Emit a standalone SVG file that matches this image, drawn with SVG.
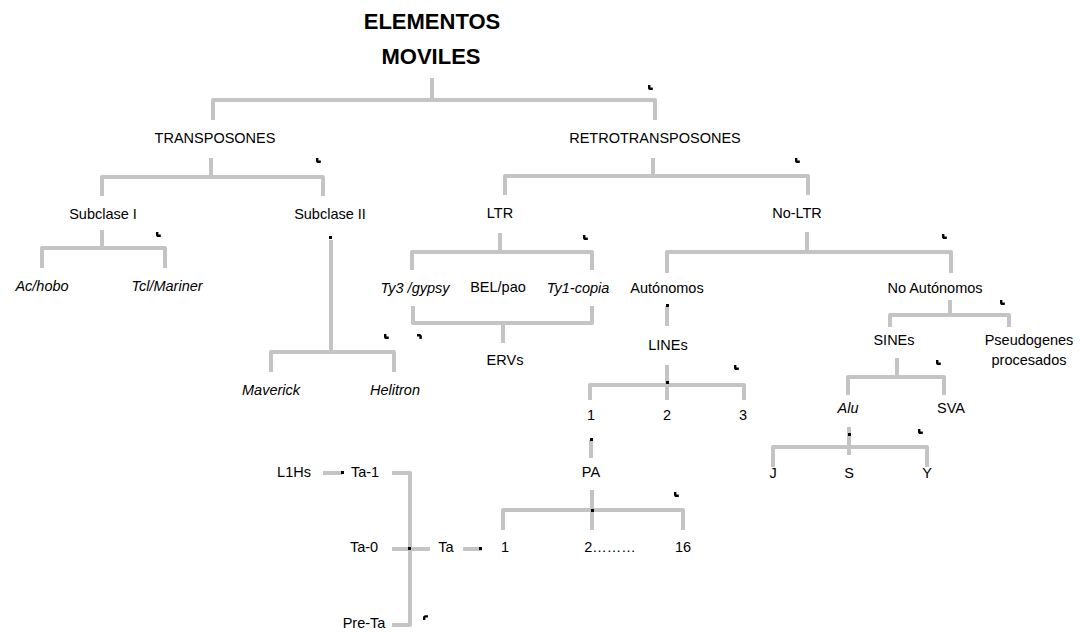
<svg xmlns="http://www.w3.org/2000/svg" width="1080" height="632" viewBox="0 0 1080 632">
<style>
.t{font-family:"Liberation Sans",Arial,sans-serif;font-size:14.5px;fill:#000;text-anchor:middle}
.i{font-style:italic}
.h{font-weight:bold;font-size:22px}
.c{fill:none;stroke:#c4c4c4;stroke-width:4;stroke-linejoin:round;stroke-linecap:butt}
.d{fill:#000}
</style>
<defs>
<filter id="blur" x="-5%" y="-5%" width="110%" height="110%"><feGaussianBlur stdDeviation="0.7"/></filter>
<path id="mk" class="d" d="M0,0 h2.4 v2.6 h2.4 v2.4 h-2.2 q-2.6,0 -2.6,-2.6 z"/>
</defs>
<rect width="1080" height="632" fill="#fff"/>
<g id="connectors" class="c" filter="url(#blur)">
<path d="M432,78 V100 M213,120 V100 H655 V120"/>
<path d="M211,158 V177 M102,196 V177 H323 V196"/>
<path d="M102,230 V248 M42,268 V248 H165 V268"/>
<path d="M331,240 V352 M271,372 V352 H394 V372"/>
<path d="M653,158 V176 M505,195 V176 H808 V195"/>
<path d="M500,233 V252 M412,270 V252 H592 V270"/>
<path d="M807,232 V252 M667,273 V252 H951 V273"/>
<path d="M413,306 V323 H592 V306 M503,323 V343"/>
<path d="M667,306 V326"/>
<path d="M667,365 V400 M590,400 V385 H744 V400"/>
<path d="M591,440 V458"/>
<path d="M592,490 V530 M503,530 V510 H683 V530"/>
<path d="M950,300 V315 M890,327 V315 H1009 V327"/>
<path d="M897,358 V377 M848,395 V377 H944 V395"/>
<path d="M849,427 V455 M773,467 V447 H927 V467"/>
<path d="M323,473 H342"/>
<path d="M392,473 H410 V625 H392"/>
<path d="M392,549 H430"/>
<path d="M463,549 H482"/>
</g>
<g id="marks">
<use href="#mk" x="648" y="85"/>
<use href="#mk" x="316" y="158"/>
<use href="#mk" x="795" y="158"/>
<use href="#mk" x="156" y="232"/>
<use href="#mk" x="583" y="235"/>
<use href="#mk" x="942" y="234"/>
<use href="#mk" x="1000" y="300"/>
<use href="#mk" x="384" y="334"/>
<use href="#mk" x="734" y="365"/>
<use href="#mk" x="936" y="360"/>
<use href="#mk" x="918" y="429"/>
<use href="#mk" x="674" y="492"/>
<path class="d" d="M417,334 h2.2 q2.6,0 2.6,2.6 v2.4 h-2.4 v-2.6 h-2.4 z"/>
<path class="d" d="M423,620 v-2.2 q0,-2.6 2.6,-2.6 h2.4 v2.4 h-2.6 v2.4 z"/>
<rect class="d" x="329" y="236" width="3" height="3"/>
<rect class="d" x="666" y="304" width="3" height="3"/>
<rect class="d" x="666" y="381" width="3" height="3"/>
<rect class="d" x="590" y="438" width="3" height="3"/>
<rect class="d" x="591" y="509" width="3" height="3"/>
<rect class="d" x="848" y="433" width="3" height="3"/>
<rect class="d" x="341" y="471" width="3" height="3"/>
<rect class="d" x="408" y="547" width="3" height="3"/>
<rect class="d" x="479" y="547" width="3" height="3"/>
</g>
<g id="n-root"><text class="t h" x="432" y="29">ELEMENTOS</text><text class="t h" x="431" y="64">MOVILES</text></g>
<g id="n-transposones"><text class="t" x="215" y="143">TRANSPOSONES</text></g>
<g id="n-retro"><text class="t" x="655" y="143">RETROTRANSPOSONES</text></g>
<g id="n-sub1"><text class="t" x="103" y="219">Subclase I</text></g>
<g id="n-sub2"><text class="t" x="330" y="219">Subclase II</text></g>
<g id="n-ltr"><text class="t" x="500" y="218">LTR</text></g>
<g id="n-noltr"><text class="t" x="797" y="218">No-LTR</text></g>
<g id="n-achobo"><text class="t i" x="42" y="291">Ac/hobo</text></g>
<g id="n-tcl"><text class="t i" x="167" y="291">Tcl/Mariner</text></g>
<g id="n-maverick"><text class="t i" x="271" y="395">Maverick</text></g>
<g id="n-helitron"><text class="t i" x="395" y="395">Helitron</text></g>
<g id="n-ty3"><text class="t i" x="415" y="293">Ty3 /gypsy</text></g>
<g id="n-bel"><text class="t" x="498" y="292">BEL/pao</text></g>
<g id="n-ty1"><text class="t i" x="578" y="293">Ty1-copia</text></g>
<g id="n-erv"><text class="t" x="505" y="365">ERVs</text></g>
<g id="n-auto"><text class="t" x="667" y="293">Autónomos</text></g>
<g id="n-noauto"><text class="t" x="935" y="293">No Autónomos</text></g>
<g id="n-lines"><text class="t" x="668" y="350">LINEs</text></g>
<g id="n-l1"><text class="t" x="591" y="420">1</text></g>
<g id="n-l2"><text class="t" x="667" y="420">2</text></g>
<g id="n-l3"><text class="t" x="743" y="420">3</text></g>
<g id="n-pa"><text class="t" x="591" y="477">PA</text></g>
<g id="n-pa1"><text class="t" x="505" y="552">1</text></g>
<g id="n-pa2"><text class="t" x="610" y="552">2………</text></g>
<g id="n-pa16"><text class="t" x="683" y="552">16</text></g>
<g id="n-ta"><text class="t" x="446" y="552">Ta</text></g>
<g id="n-ta0"><text class="t" x="364" y="552">Ta-0</text></g>
<g id="n-ta1"><text class="t" x="365" y="477">Ta-1</text></g>
<g id="n-l1hs"><text class="t" x="294" y="477">L1Hs</text></g>
<g id="n-preta"><text class="t" x="364" y="628">Pre-Ta</text></g>
<g id="n-sines"><text class="t" x="894" y="345">SINEs</text></g>
<g id="n-pseudo"><text class="t" x="1029" y="345">Pseudogenes</text><text class="t" x="1029" y="365">procesados</text></g>
<g id="n-alu"><text class="t i" x="848" y="413">Alu</text></g>
<g id="n-sva"><text class="t" x="951" y="413">SVA</text></g>
<g id="n-j"><text class="t" x="773" y="478">J</text></g>
<g id="n-s"><text class="t" x="849" y="478">S</text></g>
<g id="n-y"><text class="t" x="927" y="478">Y</text></g>
</svg>
